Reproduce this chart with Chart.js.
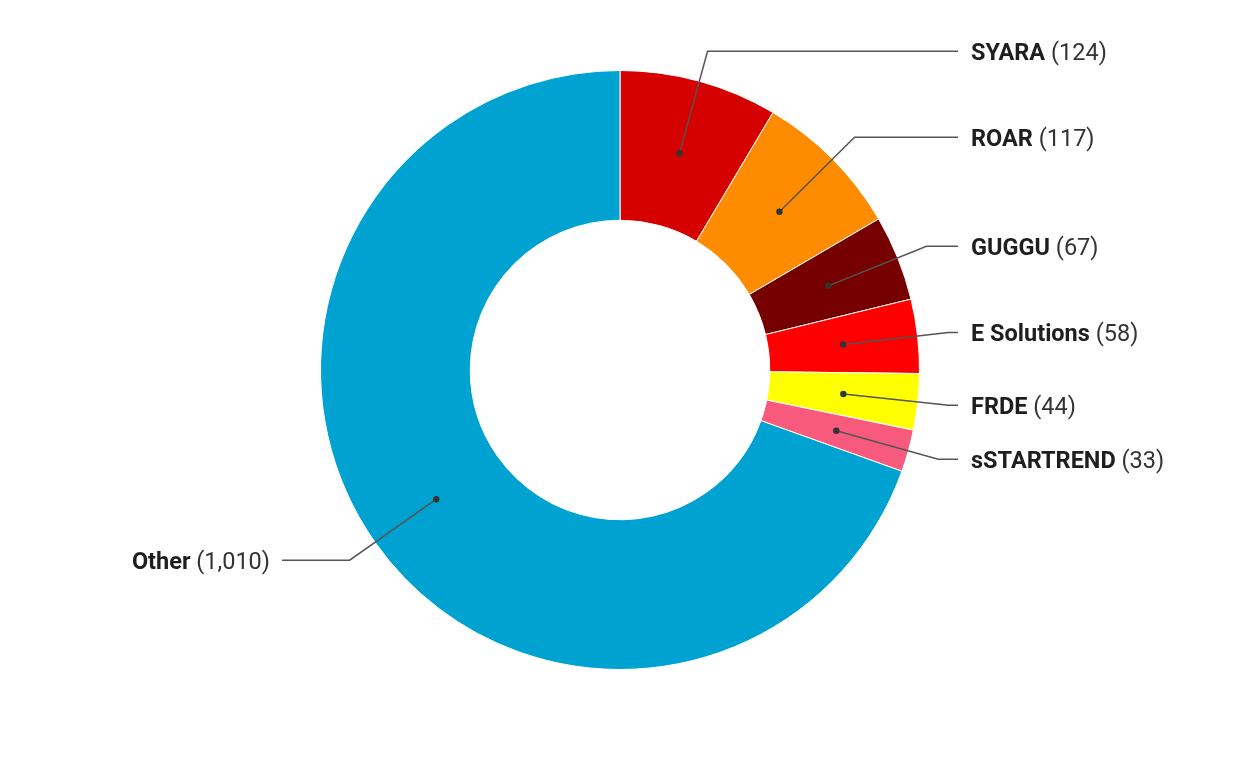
<!DOCTYPE html>
<html>
<head>
<meta charset="utf-8">
<script src="https://cdn.jsdelivr.net/npm/chart.js@4"></script>
<style>
html,body{margin:0;padding:0;background:#fff;}
#wrap{width:1240px;height:760px;position:relative;}
</style>
</head>
<body>
<div id="wrap"><canvas id="c" width="1240" height="760"></canvas></div>
<script>
const categories = ["SYARA", "ROAR", "GUGGU", "E Solutions", "FRDE", "sSTARTREND", "Other"];
const values = [124, 117, 67, 58, 44, 33, 1010];
const colors = ["#d50000", "#ff8b00", "#760000", "#ff0000", "#ffff00", "#f85a7e", "#00a2d2"];

const leaderPlugin = {
  id: 'leaders',
  afterDatasetsDraw(chart) {
    const ctx = chart.ctx;
    const meta = chart.getDatasetMeta(0);
    meta.data.forEach((arc, i) => {
      const p = arc.tooltipPosition();
      const cx = arc.x, cy = arc.y;
      const mid = (arc.startAngle + arc.endAngle) / 2;
      const r = arc.outerRadius + 31;
      let ex = cx + Math.cos(mid) * r;
      let ey = cy + Math.sin(mid) * r;
      const right = Math.cos(mid) >= 0;
      const lineEnd = right ? cx + 338 : cx - 338;
      ctx.save();
      ctx.strokeStyle = '#555';
      ctx.lineWidth = 1.5;
      ctx.beginPath();
      ctx.moveTo(p.x, p.y);
      ctx.lineTo(ex, ey);
      ctx.lineTo(lineEnd, ey);
      ctx.stroke();
      ctx.fillStyle = '#333';
      ctx.beginPath();
      ctx.arc(p.x, p.y, 3.2, 0, Math.PI * 2);
      ctx.fill();
      const name = categories[i];
      const val = ' (' + values[i].toLocaleString('en-US') + ')';
      ctx.textBaseline = 'middle';
      ctx.fillStyle = '#1e1e1e';
      ctx.font = 'bold 23.5px Roboto';
      const wName = ctx.measureText(name).width;
      ctx.font = '23.5px Roboto';
      const wVal = ctx.measureText(val).width;
      let tx = right ? lineEnd + 13 : lineEnd - 12 - wName - wVal;
      ctx.font = 'bold 23.5px Roboto';
      ctx.textAlign = 'left';
      ctx.fillText(name, tx, ey + 2.5);
      ctx.font = '23.5px Roboto';
      ctx.fillStyle = '#333';
      ctx.fillText(val, tx + wName, ey + 2.5);
      ctx.restore();
    });
  }
};

new Chart(document.getElementById('c'), {
  type: 'doughnut',
  data: {
    labels: categories,
    datasets: [{
      data: values,
      backgroundColor: colors,
      borderColor: '#ffffff',
      borderWidth: 1
    }]
  },
  options: {
    responsive: false,
    animation: false,
    cutout: '50%',
    layout: { padding: { top: 70, bottom: 90, left: 0, right: 0 } },
    plugins: {
      legend: { display: false },
      tooltip: { enabled: false }
    }
  },
  plugins: [leaderPlugin]
});
</script>
</body>
</html>
